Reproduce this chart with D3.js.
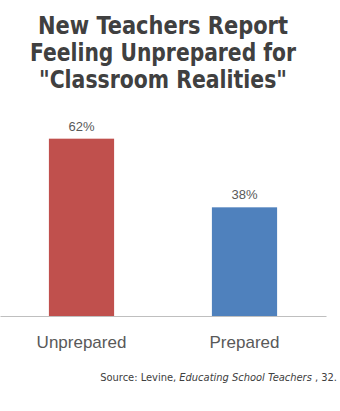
<!DOCTYPE html>
<html>
<head>
<meta charset="utf-8">
<script src="https://cdn.jsdelivr.net/npm/d3@7"></script>
<style>
  body { margin: 0; background: #fff; }
</style>
</head>
<body>
<div id="chart-Div"></div>
<script>
let width = 340, height = 411;

// chart data
let categories = ['Unprepared', 'Prepared'];
let values = [62, 38];
let barColors = ['#C0504D', '#4F81BD'];
let titleLines = ['New Teachers Report', 'Feeling Unprepared for', '"Classroom Realities"'];

let svg = d3.select('#chart-Div')
    .append('svg')
    .attr('width', width)
    .attr('height', height);

// Title - condensed bold, squeezed to the widths seen in the original
let titleWidths = [250, 266, 248];
svg.selectAll('text.title')
    .data(titleLines)
    .join('text')
    .attr('class', 'title')
    .attr('x', 163)
    .attr('y', (d, i) => 34 + i * 27)
    .attr('text-anchor', 'middle')
    .attr('font-family', '"DejaVu Sans Condensed", "Liberation Sans Narrow", sans-serif')
    .attr('font-weight', 'bold')
    .attr('font-size', 24)
    .attr('fill', '#404040')
    .attr('textLength', (d, i) => titleWidths[i])
    .attr('lengthAdjust', 'spacingAndGlyphs')
    .text(d => d);

// Scales
let xScale = d3.scaleBand()
    .domain(categories)
    .range([0, 326])
    .paddingInner(0.6)
    .paddingOuter(0.3);
let yScale = d3.scaleLinear()
    .domain([0, 100])
    .range([316, 30]);

// Bars
svg.selectAll('rect.bar')
    .data(values)
    .join('rect')
    .attr('class', 'bar')
    .attr('x', (d, i) => xScale(categories[i]))
    .attr('y', d => yScale(d))
    .attr('width', xScale.bandwidth())
    .attr('height', d => yScale(0) - yScale(d))
    .attr('fill', (d, i) => barColors[i]);

// Value labels
svg.selectAll('text.value')
    .data(values)
    .join('text')
    .attr('class', 'value')
    .attr('x', (d, i) => xScale(categories[i]) + xScale.bandwidth() / 2)
    .attr('y', d => yScale(d) - 8)
    .attr('text-anchor', 'middle')
    .attr('font-family', 'Liberation Sans, Arial, sans-serif')
    .attr('font-size', 13)
    .attr('fill', '#595959')
    .text(d => d + '%');

// Axis
let xAxis = svg.append('g')
    .attr('transform', `translate(0,${yScale(0)})`)
    .call(d3.axisBottom(xScale).tickSize(0).tickPadding(20));
xAxis.select('.domain').attr('stroke', '#bfbfbf').attr('stroke-width', 1.2);
xAxis.selectAll('text')
    .attr('font-family', 'Liberation Sans, Arial, sans-serif')
    .attr('font-size', 17)
    .attr('fill', '#595959');

// Source
let src = svg.append('text')
    .attr('x', 337)
    .attr('y', 381)
    .attr('text-anchor', 'end')
    .attr('font-family', '"DejaVu Sans Condensed", "Liberation Sans Narrow", sans-serif')
    .attr('font-size', 11)
    .attr('fill', '#404040');
src.append('tspan').text('Source: Levine, ');
src.append('tspan').attr('font-style', 'italic').text('Educating School Teachers');
src.append('tspan').text(' , 32.');
</script>
</body>
</html>
